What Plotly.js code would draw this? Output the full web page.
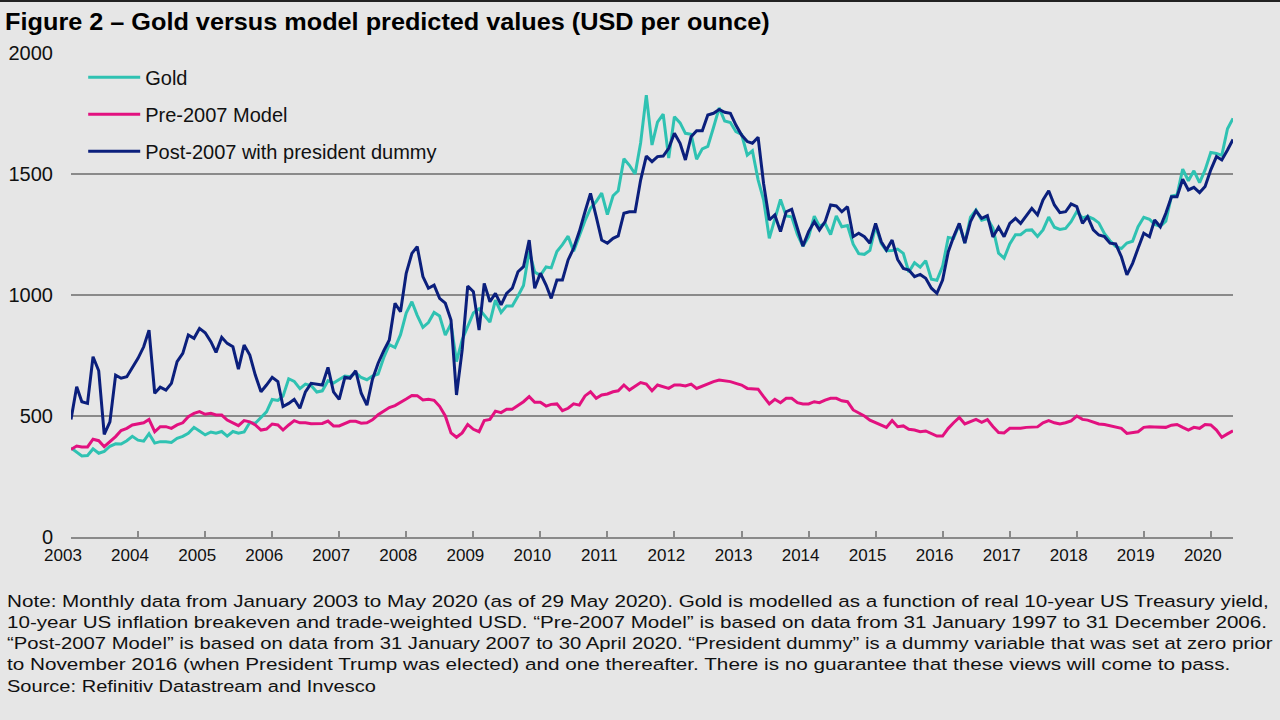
<!DOCTYPE html>
<html>
<head>
<meta charset="utf-8">
<script src="https://cdn.plot.ly/plotly-3.0.1.min.js"></script>
<style>
  html, body { margin: 0; padding: 0; background: #e6e6e6; }
  #chart { width: 1280px; height: 720px; }
</style>
</head>
<body>
<div id="chart"></div>
<script>
// Monthly data, January 2003 to May 2020 (USD per ounce)
const startYear = 2003;
const nMonths = 209;

const gold = [
  368, 350, 335, 337, 364, 346, 354, 375, 385, 384, 398, 416,
  400, 396, 427, 388, 394, 394, 391, 408, 416, 429, 453, 438,
  422, 434, 429, 436, 417, 436, 429, 434, 473, 470, 495, 517,
  568, 564, 582, 654, 643, 613, 632, 626, 599, 604, 646, 636,
  651, 665, 662, 679, 659, 650, 665, 673, 742, 795, 783, 836,
  925, 972, 916, 866, 886, 928, 913, 834, 881, 725, 815, 866,
  926, 943, 919, 888, 979, 928, 955, 955, 996, 1039, 1182, 1095,
  1081, 1116, 1112, 1180, 1208, 1243, 1181, 1248, 1307, 1358, 1386, 1421,
  1332, 1410, 1431, 1563, 1536, 1500, 1628, 1826, 1620, 1714, 1747, 1566,
  1737, 1711, 1668, 1664, 1561, 1604, 1614, 1692, 1773, 1719, 1713, 1675,
  1664, 1578, 1596, 1476, 1393, 1234, 1314, 1395, 1327, 1323, 1250, 1202,
  1240, 1326, 1284, 1296, 1250, 1327, 1282, 1287, 1210, 1171, 1168, 1184,
  1284, 1213, 1183, 1184, 1190, 1172, 1095, 1133, 1115, 1142, 1065, 1061,
  1118, 1238, 1234, 1293, 1215, 1322, 1351, 1309, 1316, 1277, 1173, 1152,
  1211, 1249, 1249, 1268, 1269, 1242, 1269, 1322, 1280, 1271, 1275, 1303,
  1345, 1318, 1325, 1315, 1298, 1253, 1224, 1201, 1192, 1215, 1222, 1282,
  1321, 1313, 1292, 1284, 1305, 1409, 1413, 1520, 1472, 1513, 1464, 1517,
  1589, 1585, 1577, 1687, 1730
];

const pre2007Model = [
  362, 376, 372, 372, 404, 398, 373, 394, 415, 440, 449, 463,
  467, 472, 486, 435, 456, 456, 449, 463, 472, 497, 511, 518,
  507, 511, 504, 504, 483, 470, 460, 481, 476, 463, 442, 446,
  467, 463, 442, 463, 481, 472, 472, 468, 467, 469, 479, 459,
  459, 468, 478, 478, 470, 472, 484, 505, 520, 535, 543, 555,
  570, 585, 584, 566, 569, 565, 540, 500, 430, 412, 430, 465,
  445, 435, 481, 486, 520, 514, 528, 528, 545, 559, 580, 557,
  557, 541, 548, 550, 522, 532, 550, 545, 583, 600, 573, 587,
  591, 600, 604, 628, 607, 621, 638, 632, 604, 628, 621, 614,
  628, 628, 624, 632, 614, 624, 635, 642, 649, 646, 642, 635,
  628, 614, 614, 611, 580, 550, 569, 555, 573, 573, 555, 550,
  550, 559, 555, 566, 573, 573, 563, 559, 525, 514, 500, 483,
  472, 463, 453, 481, 456, 459, 445, 442, 435, 438, 426, 417,
  417, 449, 472, 494, 467, 476, 486, 474, 485, 457, 432, 430,
  449, 449, 449, 453, 453, 455, 472, 481, 472, 467, 472, 480,
  500, 486, 483, 476, 467, 465, 460, 453, 449, 428, 431, 435,
  453, 456, 455, 453, 453, 462, 465, 453, 442, 453, 449, 465,
  463, 442, 412, 426, 439
];

const post2007Model = [
  486, 621, 559, 552, 745, 687, 424, 476, 669, 656, 662, 701,
  738, 786, 855, 594, 619, 607, 635, 725, 759, 835, 821, 862,
  844, 807, 763, 825, 800, 786, 694, 793, 752, 669, 600, 628,
  660, 642, 539, 552, 569, 532, 600, 635, 630, 628, 701, 600,
  569, 660, 656, 687, 594, 545, 651, 718, 770, 814, 966, 931,
  1090, 1172, 1200, 1076, 1028, 1041, 986, 966, 897, 587, 773, 1037,
  1014, 855, 1048, 972, 1007, 959, 1007, 1028, 1096, 1117, 1227, 1028,
  1090, 1041, 986, 1062, 1062, 1145, 1193, 1262, 1344, 1420, 1324, 1227,
  1214, 1234, 1244, 1338, 1344, 1344, 1475, 1574, 1551, 1572, 1574, 1606,
  1668, 1627, 1558, 1654, 1679, 1679, 1744, 1751, 1767, 1755, 1751, 1702,
  1661, 1634, 1627, 1652, 1460, 1310, 1331, 1262, 1344, 1354, 1276, 1202,
  1262, 1303, 1269, 1303, 1372, 1368, 1344, 1365, 1241, 1255, 1241, 1214,
  1296, 1220, 1186, 1227, 1147, 1110, 1103, 1076, 1085, 1069, 1028, 1007,
  1062, 1179, 1241, 1296, 1214, 1303, 1348, 1317, 1328, 1240, 1280, 1241,
  1296, 1317, 1296, 1326, 1358, 1331, 1393, 1431, 1372, 1340, 1344, 1376,
  1365, 1296, 1324, 1269, 1248, 1241, 1214, 1211, 1158, 1083, 1131, 1193,
  1255, 1241, 1310, 1282, 1338, 1406, 1406, 1478, 1434, 1445, 1423, 1448,
  1517, 1572, 1558, 1599, 1643
];

const seriesNames = ['Gold', 'Pre-2007 Model', 'Post-2007 with president dummy'];
const yTicks = [0, 500, 1000, 1500, 2000];

const titleText = 'Figure 2 \u2013 Gold versus model predicted values (USD per ounce)';
const noteLines = [
  'Note: Monthly data from January 2003 to May 2020 (as of 29 May 2020). Gold is modelled as a function of real 10-year US Treasury yield,',
  '10-year US inflation breakeven and trade-weighted USD. \u201cPre-2007 Model\u201d is based on data from 31 January 1997 to 31 December 2006.',
  '\u201cPost-2007 Model\u201d is based on data from 31 January 2007 to 30 April 2020. \u201cPresident dummy\u201d is a dummy variable that was set at zero prior',
  'to November 2016 (when President Trump was elected) and one thereafter. There is no guarantee that these views will come to pass.',
  'Source: Refinitiv Datastream and Invesco'
];

// month dates for the x axis
const months = [];
for (let i = 0; i < nMonths; i++) {
  const y = startYear + Math.floor(i / 12);
  const m = (i % 12) + 1;
  months.push(y + '-' + String(m).padStart(2, '0') + '-01');
}

const FONT = 'Liberation Sans, Arial, Helvetica, sans-serif';
const colors = ['#2fc2b2', '#e2117f', '#0b1f7c'];
const values = [gold, pre2007Model, post2007Model];

const traces = values.map((v, i) => ({
  type: 'scatter',
  mode: 'lines',
  x: months,
  y: v,
  name: seriesNames[i],
  legendgroup: 'g' + i,
  line: { color: colors[i], width: 3 },
  hoverinfo: 'x+y+name'
}));

// layout geometry (pixels): plot area 71..1233 x 53..537
const PL = 71, PW = 1162, PB = 537, PH = 484;
const noteCenters = [600.7, 622.3, 643.3, 664.3, 685.7];
const noteRightEdges = [1268, 1266, 1272, 1229, 374];

const noteAnnotations = noteLines.map((line, i) => ({
  xref: 'paper', yref: 'paper',
  x: (5 - PL) / PW, xanchor: 'left',
  y: (PB - noteCenters[i]) / PH, yanchor: 'middle',
  align: 'left',
  showarrow: false,
  text: line,
  font: { family: FONT, size: 16.5, color: '#111111' }
}));

const layout = {
  width: 1280,
  height: 720,
  paper_bgcolor: '#e6e6e6',
  plot_bgcolor: '#e6e6e6',
  font: { family: FONT, color: '#111111', size: 17 },
  margin: { l: PL, r: 1280 - PL - PW, t: PB - PH, b: 720 - PB, pad: 0 },
  title: {
    text: '<b>' + titleText + '</b>',
    x: 0.004, xanchor: 'left', xref: 'container',
    y: 1 - 22 / 720, yanchor: 'middle', yref: 'container',
    font: { family: FONT, size: 23, color: '#000000' }
  },
  xaxis: {
    type: 'date',
    range: [months[0], months[nMonths - 1]],
    tick0: months[0],
    dtick: 'M12',
    tickformat: '%Y',
    ticks: 'inside',
    ticklen: 6,
    tickwidth: 2,
    tickcolor: '#8a8a8a',
    showline: true,
    linecolor: '#8a8a8a',
    linewidth: 2,
    showgrid: false,
    zeroline: false,
    ticklabelshift: -8,
    ticklabelstandoff: 2,
    tickfont: { family: FONT, size: 17, color: '#111111' },
    fixedrange: true
  },
  yaxis: {
    range: [0, 2000],
    tickvals: yTicks,
    ticktext: yTicks.map(String),
    showgrid: true,
    gridcolor: '#8a8a8a',
    gridwidth: 2,
    zeroline: false,
    showline: false,
    ticks: '',
    ticklabelstandoff: 17,
    tickfont: { family: FONT, size: 20, color: '#111111' },
    fixedrange: true
  },
  showlegend: true,
  legend: {
    x: 0.0105, xanchor: 'left',
    y: 0.99, yanchor: 'top',
    bgcolor: 'rgba(0,0,0,0)',
    borderwidth: 0,
    traceorder: 'grouped',
    tracegroupgap: 8,
    itemwidth: 52,
    font: { family: FONT, size: 20, color: '#111111' }
  },
  annotations: noteAnnotations,
  shapes: [{
    type: 'line', xref: 'paper', yref: 'paper',
    x0: -PL / PW, x1: (1280 - PL) / PW,
    y0: (PB - 1) / PH, y1: (PB - 1) / PH,
    line: { color: '#222222', width: 2 }
  }]
};

// widen a text element horizontally about its left edge so it spans targetWidth px
function widenText(el, targetWidth) {
  if (!el) return;
  const bb = el.getBBox();
  if (!bb.width) return;
  const s = targetWidth / bb.width;
  const prev = el.getAttribute('transform') || '';
  el.setAttribute('transform',
    prev + ' translate(' + bb.x + ',0) scale(' + s + ',1) translate(' + (-bb.x) + ',0)');
}

Plotly.newPlot('chart', traces, layout, { displayModeBar: false, staticPlot: true })
  .then(gd => {
    widenText(gd.querySelector('.gtitle'), 765);
    const notes = gd.querySelectorAll('.annotation-text');
    notes.forEach((el, i) => widenText(el, noteRightEdges[i] - 5));
  });
</script>
</body>
</html>
